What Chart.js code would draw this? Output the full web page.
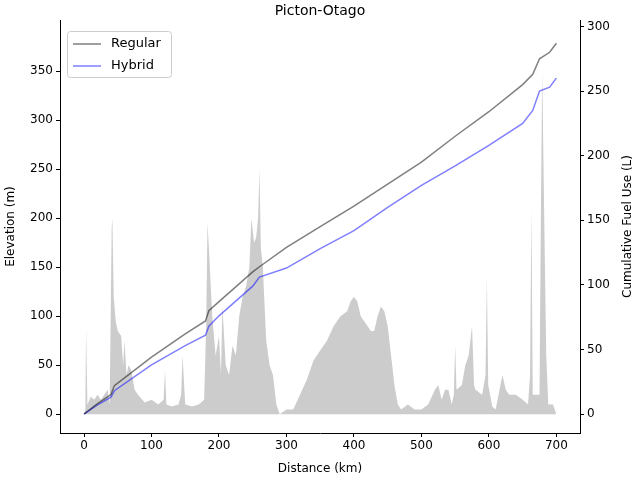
<!DOCTYPE html><html><head><script src="https://cdn.jsdelivr.net/npm/chart.js@4"></script>
<style>body{margin:0}#w{width:640px;height:480px}</style></head><body><div id="w"><canvas id="c"></canvas></div><script>
const elevKm=[0,2,3,5,10,15,20,25,30,35,38,41,42,44,47,50,55,58,60,63,66,70,75,80,90,100,110,118,120,122,130,140,144,146,150,160,170,178,181,183,185,190,195,200,203,205,210,215,220,225,230,235,240,245,248,252,255,258,260,262,265,270,275,280,285,290,300,310,320,330,340,350,360,370,380,390,395,400,405,410,420,425,430,435,440,445,450,455,460,465,470,480,490,500,510,520,525,530,535,540,545,548,550,552,560,565,570,575,578,580,590,595,597,599,605,610,620,625,630,640,650,658,661,663,665,668,672,675,677,679,682,685,688,695,700];
const elevM=[0,5,88,10,18,15,20,15,20,25,10,190,200,120,95,85,80,50,75,40,50,45,25,20,12,15,10,15,45,10,8,10,20,60,10,8,10,15,90,195,170,100,60,80,40,110,50,40,70,60,100,120,130,150,200,175,180,200,250,170,150,75,50,40,10,0,5,5,20,35,55,65,75,90,100,105,115,120,115,100,90,85,85,100,110,105,90,60,30,10,5,10,5,5,10,25,30,15,25,25,10,20,70,25,30,50,60,90,30,25,20,40,140,30,8,5,40,25,20,20,15,10,40,210,20,20,20,20,200,350,200,60,10,10,0];
const fuelKm=[0,20,40,45,100,150,180,185,200,250,260,300,350,400,450,500,550,600,650,665,675,690,700];
const regular=[0,8,15,22,44,62,72,80,87,110,114,129,145,161,178,195,215,234,255,263,275,280,287];
const hybrid=[0,7,13,18,38,53,61,68,76,99,106,113,128,142,160,177,192,208,225,235,250,253,260];
const pts=(xs,ys)=>xs.map((x,i)=>({x,y:ys[i]}));
const F='"DejaVu Sans"';
Chart.defaults.font.family=F;Chart.defaults.font.size=12;Chart.defaults.color='#000';
const leg={id:'leg',afterDraw(ch){const c=ch.ctx,a=ch.chartArea;c.save();
c.fillStyle='#000';c.font='14px '+F;c.textAlign='center';c.textBaseline='middle';c.fillText('Picton-Otago',(a.left+a.right)/2,11);
c.save();c.translate(628,(a.top+a.bottom)/2);c.rotate(-Math.PI/2);c.font='12px '+F;c.fillText('Cumulative Fuel Use (L)',0,0);c.restore();
c.fillStyle='rgba(255,255,255,0.8)';c.strokeStyle='#ccc';c.lineWidth=1;
c.beginPath();c.roundRect(67.5,31.5,104,46,3);c.fill();c.stroke();
c.textAlign='left';c.font='13px '+F;
[[1,44],[2,66]].forEach(([i,y])=>{const d=ch.data.datasets[i];c.strokeStyle=d.borderColor;c.lineWidth=1.5;c.beginPath();c.moveTo(73,y);c.lineTo(101,y);c.stroke();c.fillStyle='#000';c.fillText(d.label,111,y);});
c.restore();}};
const g={drawOnChartArea:false,drawTicks:true,tickLength:4,color:'#000'};
new Chart(document.getElementById('c'),{type:'scatter',data:{datasets:[
{label:'Elevation',data:pts(elevKm,elevM),showLine:true,pointRadius:0,borderWidth:0,backgroundColor:'#cccccc',fill:{value:0},yAxisID:'y',order:3},
{label:'Regular',data:pts(fuelKm,regular),showLine:true,pointRadius:0,borderColor:'rgba(0,0,0,0.5)',borderWidth:1.5,yAxisID:'y2',order:1},
{label:'Hybrid',data:pts(fuelKm,hybrid),showLine:true,pointRadius:0,borderColor:'rgba(0,0,255,0.5)',borderWidth:1.5,yAxisID:'y2',order:2}]},
options:{responsive:true,maintainAspectRatio:false,animation:false,layout:{padding:{top:20,left:0,right:0,bottom:0}},
plugins:{legend:{display:false},tooltip:{enabled:false}},
scales:{x:{type:'linear',min:-35.6,max:735,afterBuildTicks(s){s.ticks=[0,100,200,300,400,500,600,700].map(v=>({value:v}))},grid:g,border:{color:'#000'},ticks:{padding:2},title:{display:true,text:'Distance (km)',padding:{top:2}},afterFit(s){s.height=47}},
y:{position:'left',min:-19,max:402,afterBuildTicks(s){s.ticks=[0,50,100,150,200,250,300,350].map(v=>({value:v}))},grid:g,border:{color:'#000'},title:{display:true,text:'Elevation (m)'},afterFit(s){s.width=60}},
y2:{position:'right',min:-14.7,max:305,afterBuildTicks(s){s.ticks=[0,50,100,150,200,250,300].map(v=>({value:v}))},grid:g,border:{color:'#000'},title:{display:false},afterFit(s){s.width=60}}}},
plugins:[leg]});
</script></body></html>
